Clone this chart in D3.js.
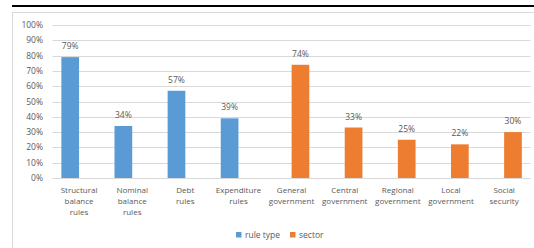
<!DOCTYPE html>
<html>
<head>
<meta charset="utf-8">
<script src="https://cdn.jsdelivr.net/npm/d3@7"></script>
<style>
  body { margin: 0; background: #fff; }
  svg text { font-family: "Open Sans", "Liberation Sans", sans-serif; fill: #595959; }
</style>
</head>
<body>
<script>
var categories = [
  ["Structural", "balance", "rules"],
  ["Nominal", "balance", "rules"],
  ["Debt", "rules"],
  ["Expenditure", "rules"],
  ["General", "government"],
  ["Central", "government"],
  ["Regional", "government"],
  ["Local", "government"],
  ["Social", "security"]
];
var seriesNames = ["rule type", "sector"];
var ruleType = [0.79, 0.34, 0.57, 0.39, null, null, null, null, null];
var sector = [null, null, null, null, 0.74, 0.33, 0.25, 0.22, 0.30];
var yTicks = [0, 0.1, 0.2, 0.3, 0.4, 0.5, 0.6, 0.7, 0.8, 0.9, 1];
var colors = ["#5b9bd5", "#ed7d31"];

var width = 534, height = 248;
var plotL = 52.5, plotR = 530.7, plotT = 25, plotB = 178;

var svg = d3.select("body").append("svg")
    .attr("width", width)
    .attr("height", height);

// heavy rule above the chart + chart border
svg.append("rect").attr("x", 12).attr("y", 5).attr("width", 522).attr("height", 2).attr("fill", "#000");
svg.append("rect").attr("x", 12.5).attr("y", 12.5).attr("width", 530).attr("height", 240)
    .attr("fill", "none").attr("stroke", "#d9d9d9");

var x = d3.scaleBand()
    .domain(d3.range(categories.length))
    .range([plotL, plotR]);

var y = d3.scaleLinear().domain([0, 1]).range([plotB, plotT]);

svg.append("g").selectAll("line")
    .data(yTicks)
    .enter().append("line")
    .attr("x1", plotL).attr("x2", plotR)
    .attr("y1", function(d) { return Math.round(y(d)) + 0.5; })
    .attr("y2", function(d) { return Math.round(y(d)) + 0.5; })
    .attr("stroke", "#d9d9d9");

svg.append("g").selectAll("text")
    .data(yTicks)
    .enter().append("text")
    .attr("x", 43)
    .attr("y", function(d) { return y(d) + 3; })
    .attr("text-anchor", "end")
    .style("font-size", "8.5px")
    .text(d3.format(".0%"));

var bw = 17.7;
var series = [ruleType, sector];
series.forEach(function(vals, s) {
  var g = svg.append("g");
  var pts = vals.map(function(v, i) { return {v: v, i: i}; }).filter(function(d) { return d.v != null; });
  g.selectAll("rect")
      .data(pts)
      .enter().append("rect")
      .attr("x", function(d) { return x(d.i) + x.bandwidth() / 2 + (s === 0 ? -bw : 0); })
      .attr("y", function(d) { return y(d.v); })
      .attr("width", bw)
      .attr("height", function(d) { return y(0) - y(d.v); })
      .attr("fill", colors[s]);
  g.selectAll("text")
      .data(pts)
      .enter().append("text")
      .attr("x", function(d) { return x(d.i) + x.bandwidth() / 2 + (s === 0 ? -bw / 2 : bw / 2); })
      .attr("y", function(d) { return y(d.v) - 8; })
      .attr("text-anchor", "middle")
      .style("font-size", "8.5px")
      .text(function(d) { return d3.format(".0%")(d.v); });
});

var lab = svg.append("g").selectAll("text")
    .data(categories)
    .enter().append("text")
    .attr("x", function(d, i) { return x(i) + x.bandwidth() / 2; })
    .attr("y", 193)
    .attr("text-anchor", "middle")
    .style("font-size", "8px");
lab.selectAll("tspan")
    .data(function(d) { return d; })
    .enter().append("tspan")
    .attr("x", function() { return this.parentNode.getAttribute("x"); })
    .attr("dy", function(d, j) { return j === 0 ? 0 : 11; })
    .text(function(d) { return d; });

// legend
var legX = [236, 290];
seriesNames.forEach(function(name, s) {
  svg.append("rect").attr("x", legX[s]).attr("y", 232).attr("width", 5.5).attr("height", 5.5).attr("fill", colors[s]);
  svg.append("text").attr("x", legX[s] + 9).attr("y", 237.5).style("font-size", "8.5px").text(name);
});
</script>
</body>
</html>
